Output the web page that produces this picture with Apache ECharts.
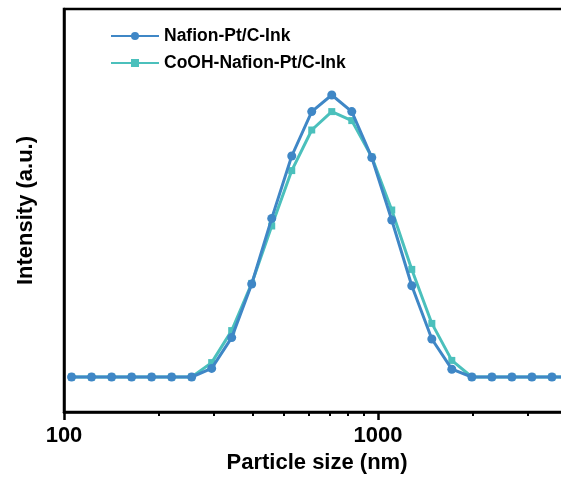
<!DOCTYPE html>
<html>
<head>
<meta charset="utf-8">
<script src="https://cdn.jsdelivr.net/npm/echarts@6/dist/echarts.min.js"></script>
<style>
  html, body { margin: 0; padding: 0; background: #fff; }
  #chart { width: 561px; height: 485px; }
</style>
</head>
<body>
<div id="chart"></div>
<script>
// DLS size bins (nm)
const sizes = [105.7, 122.4, 141.8, 164.2, 190.1, 220.2, 255.0, 295.3, 342.0, 396.1, 458.7, 531.2,
  615.1, 712.4, 825.0, 955.4, 1106, 1281, 1484, 1718, 1990, 2305, 2669, 3091, 3580, 4145]
// intensity (%)
const nafion = [0, 0, 0, 0, 0, 0, 0, 0.43, 1.97, 4.65, 7.93, 11.05,
  13.27, 14.1, 13.27, 10.97, 7.85, 4.56, 1.9, 0.39, 0, 0, 0, 0, 0, 0]
const cooh = [0, 0, 0, 0, 0, 0, 0, 0.72, 2.32, 4.68, 7.55, 10.32,
  12.35, 13.27, 12.82, 11.0, 8.35, 5.38, 2.68, 0.83, 0, 0, 0, 0, 0, 0]
const majorTicks = [100, 1000]
const minorTicks = [200, 300, 400, 500, 600, 700, 800, 900, 2000, 3000]

const font = 'Arial, "Liberation Sans", sans-serif'
const pairs = arr => sizes.map((s, i) => [s, arr[i]])

const chart = echarts.init(document.getElementById('chart'))
chart.setOption({
  animation: false,
  legend: {
    data: ['Nafion-Pt/C-Ink', 'CoOH-Nafion-Pt/C-Ink'],
    orient: 'vertical',
    left: 110,
    top: 27,
    padding: 0,
    itemWidth: 48,
    itemHeight: 10,
    itemGap: 9,
    textStyle: { fontFamily: font, fontWeight: 'bold', fontSize: 17.5, color: '#000' }
  },
  grid: {
    left: 64, top: 9, width: 520, bottom: 73,
    outerBoundsMode: 'none',
    show: true, borderColor: '#000', borderWidth: 2.5
  },
  xAxis: [{
    type: 'log',
    logBase: 10,
    min: 100,
    max: 4529,
    name: 'Particle size (nm)',
    nameLocation: 'middle',
    nameGap: 36,
    nameTextStyle: { fontFamily: font, fontWeight: 'bold', fontSize: 22, color: '#000', padding: [0, 14, 0, 0] },
    axisLine: { onZero: false, lineStyle: { color: '#000', width: 2.5 } },
    axisTick: { customValues: majorTicks, length: 8, lineStyle: { color: '#000', width: 2.5 } },
    axisLabel: {
      customValues: majorTicks, margin: 13,
      formatter: v => String(v),
      fontFamily: font, fontWeight: 'bold', fontSize: 22, color: '#000'
    },
    splitLine: { show: false }
  }, {
    type: 'log',
    logBase: 10,
    min: 100,
    max: 4529,
    position: 'bottom',
    axisLine: { show: false, onZero: false },
    axisTick: { customValues: minorTicks, length: 4, lineStyle: { color: '#000', width: 2 } },
    axisLabel: { show: false },
    splitLine: { show: false }
  }],
  yAxis: {
    type: 'value',
    min: -1.75,
    max: 18.4,
    name: 'Intensity (a.u.)',
    nameLocation: 'middle',
    nameGap: 27,
    nameTextStyle: { fontFamily: font, fontWeight: 'bold', fontSize: 22, color: '#000' },
    axisLine: { show: true, onZero: false, lineStyle: { color: '#000', width: 2.5 } },
    axisTick: { show: false },
    axisLabel: { show: false },
    splitLine: { show: false }
  },
  series: [{
    name: 'CoOH-Nafion-Pt/C-Ink',
    type: 'line',
    data: pairs(cooh),
    symbol: 'rect',
    symbolSize: 7,
    lineStyle: { color: '#4BC0BC', width: 3 },
    itemStyle: { color: '#4BC0BC' },
    z: 2
  }, {
    name: 'Nafion-Pt/C-Ink',
    type: 'line',
    data: pairs(nafion),
    symbol: 'circle',
    symbolSize: 9,
    lineStyle: { color: '#3F87C6', width: 3 },
    itemStyle: { color: '#3F87C6' },
    z: 3
  }]
})
</script>
</body>
</html>
